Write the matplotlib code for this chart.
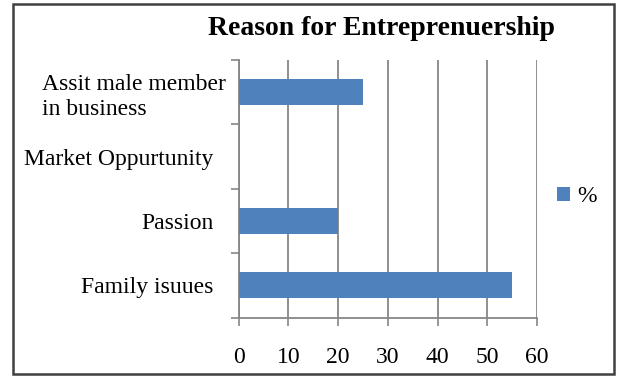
import matplotlib.pyplot as plt
import matplotlib.transforms as mtransforms
from matplotlib.patches import Rectangle

# 数据
categories = ["Family isuues", "Passion", "Market Oppurtunity", "Assit male member\nin business"]
values = [55, 20, 0, 25]
x_ticks = [0, 10, 20, 30, 40, 50, 60]

plt.rcParams["font.family"] = ["Liberation Serif", "DejaVu Serif"]

fig = plt.figure(figsize=(6.19, 3.76), dpi=100)
ax = fig.add_axes([238.5 / 619, 1 - 317.5 / 376, 298.5 / 619, 257.5 / 376])

y = range(len(categories))
ax.barh(y, values, height=0.4, color="#4F81BD", label="%", zorder=3)

ax.set_xlim(0, 60)
ax.set_ylim(-0.5, len(categories) - 0.5)
ax.set_xticks(x_ticks)
ax.set_xticklabels([str(t) for t in x_ticks], fontsize=17)
ax.set_yticks(list(y))
ax.set_yticklabels(categories, fontsize=17, multialignment="left", linespacing=1.3)
ax.tick_params(axis="y", which="major", length=0, pad=18)
ax.set_yticks([i - 0.5 for i in range(len(categories) + 1)], minor=True)
ax.tick_params(axis="y", which="minor", length=6, width=1.2, color="#868686", direction="out")
ax.tick_params(axis="x", length=6, width=1.2, color="#868686", direction="out", pad=15)

# 两行标签稍微往右挪
lbl = ax.get_yticklabels()[3]
lbl.set_transform(lbl.get_transform() + mtransforms.ScaledTranslation(12 / 100, 0, fig.dpi_scale_trans))

ax.grid(axis="x", color="#868686", linewidth=1.3, zorder=0)
for side in ["top", "right"]:
    ax.spines[side].set_visible(False)
for side in ["left", "bottom"]:
    ax.spines[side].set_color("#868686")
    ax.spines[side].set_linewidth(1.3)

ax.legend(loc="center left", bbox_to_anchor=(0.995, 0.47), frameon=False,
          fontsize=17, handlelength=0.55, handleheight=0.55, handletextpad=0.3)

fig.text(0.617, 0.925, "Reason for Entreprenuership", ha="center", va="center",
         fontsize=20, fontweight="bold")

# 外框
fig.patches.append(Rectangle((13 / 619, 2 / 376), 601 / 619, 370 / 376,
                             transform=fig.transFigure, fill=False,
                             edgecolor="#404040", linewidth=1.8))

fig.savefig("out.png", dpi=100)
